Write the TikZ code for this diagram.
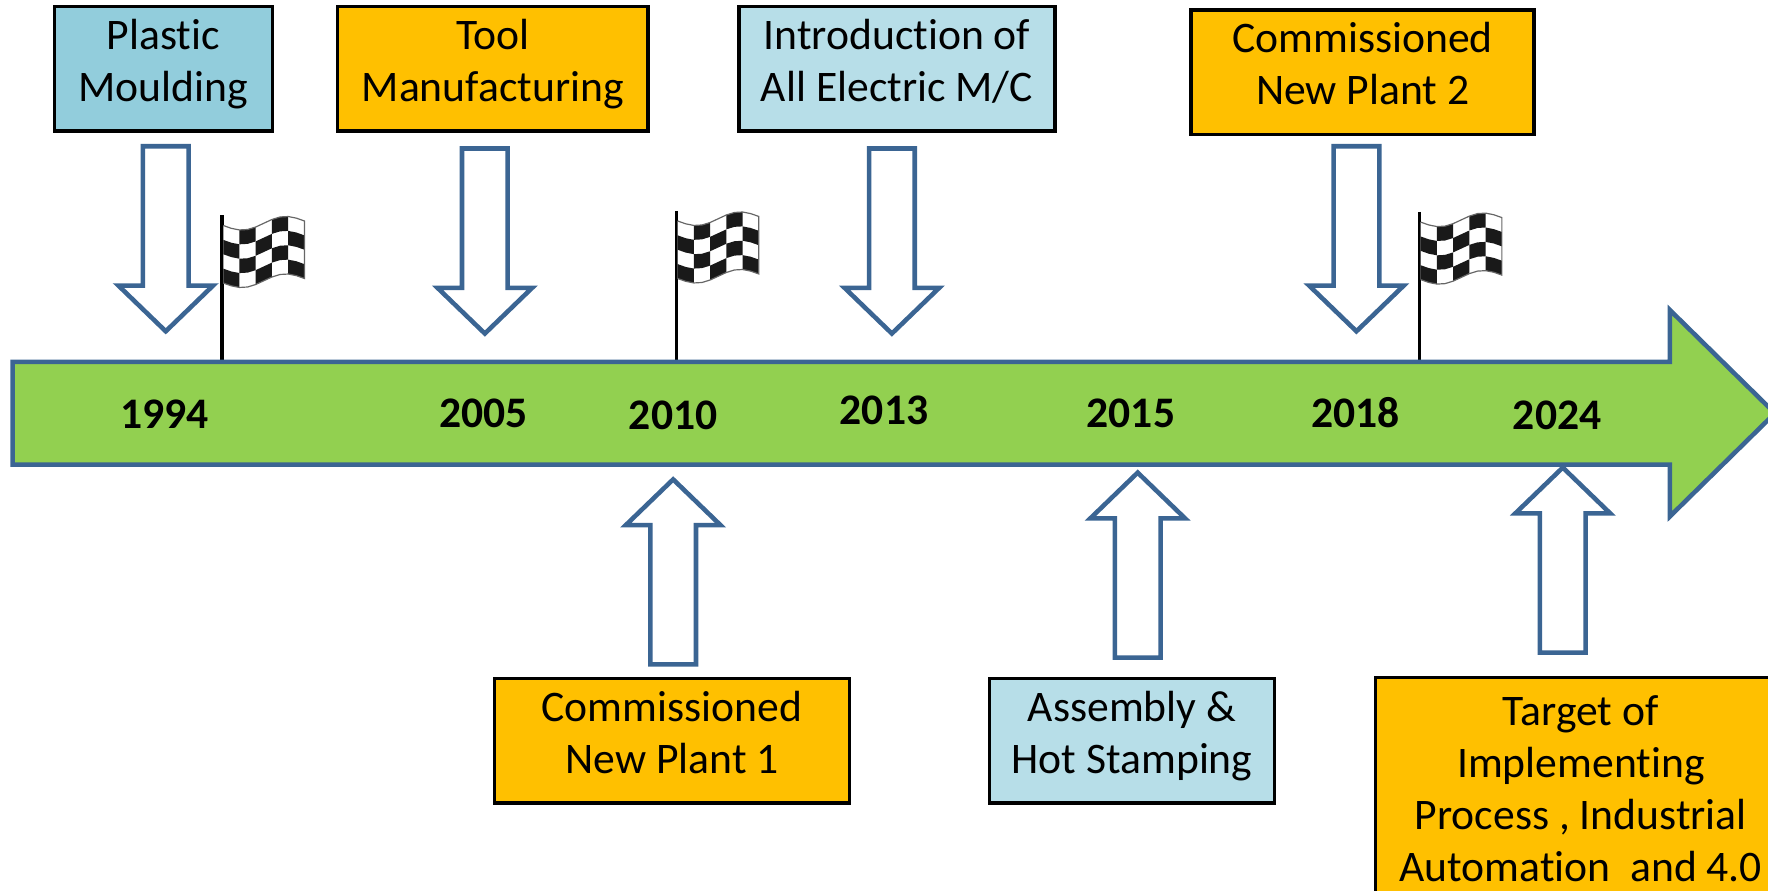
\documentclass[tikz,border=0pt]{standalone}
\usepackage{fontspec}
\setmainfont{Carlito}[Ligatures=NoCommon]
\usetikzlibrary{shapes.arrows,positioning}

\definecolor{linkblue}{HTML}{3B6593}
\definecolor{bargreen}{HTML}{92D050}
\definecolor{boxorange}{HTML}{FFC000}
\definecolor{boxblue}{HTML}{92CDDC}
\definecolor{boxpale}{HTML}{B7DEE8}

\tikzset{
	eventbox/.style={draw=black,line width=0.85pt,inner sep=0pt,align=center,font=\fontsize{11}{13.1}\selectfont,
		execute at begin node=\strut,execute at end node={\rule[-0.15cm]{0pt}{0pt}}},
	yearlabel/.style={font=\fontsize{11}{12}\selectfont\bfseries},
	hollowarrow/.style={single arrow,draw=linkblue,fill=white,line width=1.15pt,inner sep=0.18cm,
		minimum width=0.84cm,minimum height=1.64cm,single arrow head extend=0.215cm,
		single arrow tip angle=92,single arrow head indent=0pt},
	timearrow/.style={single arrow,draw=linkblue,fill=bargreen,line width=1.15pt,inner sep=0.435cm,
		minimum width=1.83cm,minimum height=15.62cm,single arrow head extend=0.46cm,
		single arrow tip angle=89,single arrow head indent=0pt},
	checkflag/.pic={
		\draw[black,line width=0.85pt] (-1,-9) -- (-1,128);
		\fill[white] (0,0) \foreach \i in {1,...,10} {-- ({\i*7.2},{flagwave(\i/10)})}
			-- ++(0,51) \foreach \i in {9,...,0} {-- ({\i*7.2},{flagwave(\i/10)+51})} -- cycle;
		\foreach \i in {0,...,4}
			\foreach \j in {0,...,3} {
				\pgfmathtruncatemacro{\cellodd}{mod(\i+\j,2)}
				\ifnum\cellodd=1
					\fill[black!90] ({\i*14.4},{flagwave(\i/5)+\j*12.75})
						-- ({(\i+.5)*14.4},{flagwave((\i+.5)/5)+\j*12.75})
						-- ({(\i+1)*14.4},{flagwave((\i+1)/5)+\j*12.75})
						-- ({(\i+1)*14.4},{flagwave((\i+1)/5)+(\j+1)*12.75})
						-- ({(\i+.5)*14.4},{flagwave((\i+.5)/5)+(\j+1)*12.75})
						-- ({\i*14.4},{flagwave(\i/5)+(\j+1)*12.75}) -- cycle;
				\fi
			}
		\draw[black!60,line width=0.3pt] (0,0) \foreach \i in {1,...,10} {-- ({\i*7.2},{flagwave(\i/10)})}
			-- ++(0,51) \foreach \i in {9,...,0} {-- ({\i*7.2},{flagwave(\i/10)+51})};
	},
	declare function={flagwave(\t)=-4*\t+5*sin(360*\t);}
}

\begin{document}
\begin{tikzpicture}[x=0.01cm,y=-0.01cm]
	\useasboundingbox (0,0) rectangle (1568,790.2);

	% flags
	\pic at (198,200) {checkflag};
	\pic at (601,196) {checkflag};
	\pic at (1260,197) {checkflag};

	% timeline
	\node (line) [timearrow] at (769.5,366.5) {};
	\node [yearlabel] (y1994) at (146,367) {1994};
	\node [yearlabel] (y2005) at (429,367) {2005};
	\node [yearlabel] (y2010) at (597,368) {2010};
	\node [yearlabel] (y2013) at (784,364) {2013};
	\node [yearlabel] (y2015) at (1003,367) {2015};
	\node [yearlabel] (y2018) at (1202,366) {2018};
	\node [yearlabel] (y2024) at (1381,368) {2024};

	% arrows above and below
	\node (a1) [hollowarrow,shape border rotate=270] at (147,202) {};
	\node (a2) [hollowarrow,shape border rotate=270] at (430,204) {};
	\node (a3) [hollowarrow,shape border rotate=270] at (791,204) {};
	\node (a4) [hollowarrow,shape border rotate=270] at (1203,202) {};
	\node (a5) [hollowarrow,shape border rotate=90] at (597,517) {};
	\node (a6) [hollowarrow,shape border rotate=90] at (1009,511) {};
	\node (a7) [hollowarrow,shape border rotate=90] at (1386,506.5) {};

	% boxes
	\node (b1) [eventbox,fill=boxblue,minimum width=1.93cm,minimum height=1.10cm] at (145,61) {Plastic\\Moulding};
	\node (b2) [eventbox,fill=boxorange,minimum width=2.75cm,minimum height=1.10cm] at (437,61) {Tool\\Manufacturing};
	\node (b3) [eventbox,fill=boxpale,minimum width=2.80cm,minimum height=1.10cm] at (795.5,61) {Introduction of\\All Electric M/C};
	\node (b4) [eventbox,fill=boxorange,minimum width=3.04cm,minimum height=1.10cm] at (1208.5,64) {Commissioned\\New Plant 2};
	\node (b5) [eventbox,fill=boxorange,minimum width=3.15cm,minimum height=1.10cm] at (596,657) {Commissioned\\New Plant 1};
	\node (b6) [eventbox,fill=boxpale,minimum width=2.53cm,minimum height=1.10cm] at (1004,657) {Assembly \&\\Hot Stamping};
	\node (b7) [eventbox,fill=boxorange,minimum width=3.64cm,minimum height=2.11cm] at (1402,706.5) {Target of\\Implementing\\Process , Industrial\\Automation~ and 4.0};
\end{tikzpicture}
\end{document}
